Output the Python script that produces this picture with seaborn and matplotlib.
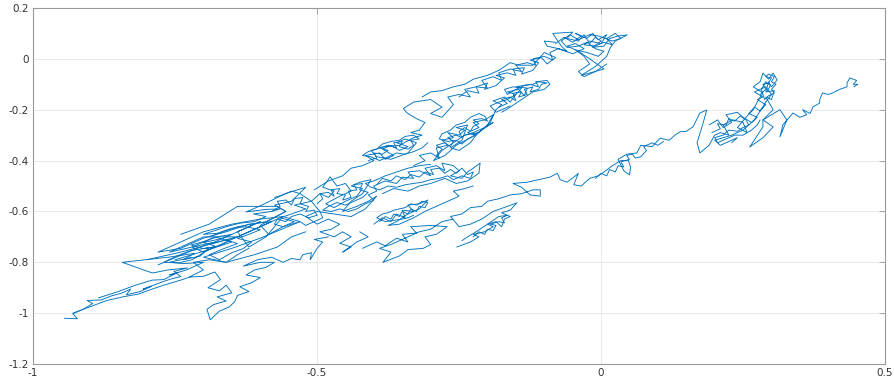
import pandas as pd
import seaborn as sns
import matplotlib.pyplot as plt

# trajectory pieces (x, y in axis units)
tail = [(-0.945, -1.020), (-0.922, -1.022), (-0.930, -1.002), (-0.912, -0.985), (-0.895, -0.962),
        (-0.905, -0.950), (-0.880, -0.948), (-0.862, -0.932), (-0.845, -0.922), (-0.828, -0.905),
        (-0.836, -0.928), (-0.812, -0.915), (-0.792, -0.895), (-0.806, -0.905), (-0.776, -0.880),
        (-0.758, -0.866), (-0.740, -0.856), (-0.752, -0.836), (-0.728, -0.822), (-0.762, -0.830),
        (-0.790, -0.842), (-0.843, -0.800), (-0.762, -0.780), (-0.716, -0.765)]
tail2 = [(-0.885, -0.940), (-0.850, -0.915), (-0.820, -0.890), (-0.790, -0.870), (-0.770, -0.868),
         (-0.745, -0.840), (-0.760, -0.850), (-0.730, -0.830), (-0.700, -0.800), (-0.735, -0.805),
         (-0.760, -0.800), (-0.720, -0.780)]
tail3 = [(-0.930, -1.000), (-0.900, -0.975), (-0.870, -0.950), (-0.840, -0.935), (-0.815, -0.925),
         (-0.790, -0.905), (-0.770, -0.890), (-0.740, -0.870), (-0.720, -0.855)]
band_low = [(-0.716, -0.765), (-0.736, -0.790), (-0.706, -0.776), (-0.690, -0.742), (-0.724, -0.755),
            (-0.748, -0.776), (-0.770, -0.800), (-0.744, -0.802), (-0.720, -0.790), (-0.700, -0.762),
            (-0.680, -0.736), (-0.700, -0.722), (-0.666, -0.706), (-0.650, -0.690), (-0.676, -0.700),
            (-0.696, -0.716), (-0.722, -0.732), (-0.700, -0.746), (-0.672, -0.736), (-0.655, -0.716),
            (-0.640, -0.726), (-0.664, -0.746), (-0.690, -0.770), (-0.672, -0.790), (-0.650, -0.762),
            (-0.630, -0.746), (-0.615, -0.720), (-0.640, -0.706), (-0.620, -0.690), (-0.600, -0.672),
            (-0.626, -0.660), (-0.650, -0.666), (-0.676, -0.686), (-0.700, -0.690), (-0.660, -0.660),
            (-0.636, -0.646), (-0.610, -0.640), (-0.590, -0.620), (-0.612, -0.610), (-0.580, -0.600),
            (-0.565, -0.590), (-0.590, -0.592), (-0.625, -0.602), (-0.600, -0.578), (-0.556, -0.530),
            (-0.520, -0.505), (-0.545, -0.560), (-0.575, -0.575), (-0.555, -0.600), (-0.580, -0.630),
            (-0.600, -0.655), (-0.585, -0.690), (-0.560, -0.660), (-0.540, -0.640), (-0.565, -0.625),
            (-0.545, -0.610), (-0.520, -0.590), (-0.540, -0.575), (-0.510, -0.560)]
band_long = [(-0.780, -0.810), (-0.700, -0.735), (-0.640, -0.700), (-0.700, -0.700), (-0.760, -0.760),
             (-0.680, -0.720), (-0.600, -0.640), (-0.640, -0.680), (-0.620, -0.740), (-0.590, -0.700),
             (-0.560, -0.620), (-0.530, -0.640), (-0.600, -0.705), (-0.650, -0.745), (-0.700, -0.780),
             (-0.660, -0.800), (-0.610, -0.770), (-0.570, -0.740), (-0.545, -0.700), (-0.520, -0.680)]
band_lines = [(-0.800, -0.790), (-0.740, -0.760), (-0.690, -0.730), (-0.640, -0.700), (-0.600, -0.660),
              (-0.560, -0.620), (-0.600, -0.630), (-0.650, -0.650), (-0.700, -0.680), (-0.740, -0.720),
              (-0.780, -0.760), (-0.740, -0.745), (-0.700, -0.705), (-0.660, -0.680), (-0.620, -0.650),
              (-0.580, -0.640), (-0.620, -0.680), (-0.660, -0.720), (-0.700, -0.760), (-0.720, -0.740),
              (-0.680, -0.700), (-0.650, -0.720), (-0.690, -0.750), (-0.750, -0.790)]
band_top = [(-0.740, -0.690), (-0.690, -0.650), (-0.640, -0.580), (-0.570, -0.580), (-0.555, -0.600),
            (-0.590, -0.640), (-0.640, -0.660), (-0.690, -0.700)]
lobe = [(-0.620, -0.745), (-0.640, -0.770), (-0.660, -0.800), (-0.690, -0.790), (-0.718, -0.800),
        (-0.700, -0.830), (-0.725, -0.858), (-0.700, -0.855), (-0.680, -0.838), (-0.670, -0.868),
        (-0.692, -0.900), (-0.672, -0.912), (-0.660, -0.890), (-0.650, -0.920), (-0.676, -0.936),
        (-0.660, -0.952), (-0.682, -0.966), (-0.694, -0.985), (-0.688, -1.026), (-0.672, -0.992),
        (-0.655, -0.976), (-0.645, -0.955), (-0.640, -0.930), (-0.620, -0.915), (-0.636, -0.896),
        (-0.615, -0.880), (-0.600, -0.860), (-0.625, -0.850), (-0.610, -0.830), (-0.590, -0.820),
        (-0.575, -0.800), (-0.600, -0.800), (-0.630, -0.815), (-0.605, -0.790), (-0.580, -0.780),
        (-0.560, -0.800), (-0.545, -0.785), (-0.530, -0.790), (-0.525, -0.770), (-0.510, -0.762),
        (-0.512, -0.790), (-0.500, -0.745), (-0.490, -0.720), (-0.505, -0.710), (-0.480, -0.700)]
left_mid = [(-0.580, -0.600), (-0.565, -0.580), (-0.570, -0.560), (-0.555, -0.555), (-0.545, -0.575),
            (-0.540, -0.550), (-0.525, -0.545), (-0.530, -0.570), (-0.515, -0.580), (-0.520, -0.600),
            (-0.505, -0.595), (-0.500, -0.615), (-0.515, -0.625), (-0.530, -0.610), (-0.545, -0.620),
            (-0.555, -0.640), (-0.570, -0.630), (-0.575, -0.650), (-0.560, -0.660), (-0.545, -0.650),
            (-0.530, -0.640), (-0.520, -0.655), (-0.505, -0.640), (-0.490, -0.625), (-0.495, -0.600),
            (-0.510, -0.560), (-0.530, -0.530), (-0.545, -0.520), (-0.560, -0.535), (-0.575, -0.545)]
mid = [(-0.510, -0.560), (-0.495, -0.530), (-0.480, -0.545), (-0.470, -0.520), (-0.490, -0.505),
       (-0.477, -0.464), (-0.465, -0.500), (-0.450, -0.490), (-0.440, -0.520), (-0.460, -0.540),
       (-0.485, -0.570), (-0.470, -0.585), (-0.450, -0.560), (-0.430, -0.540), (-0.420, -0.510),
       (-0.440, -0.500), (-0.425, -0.485), (-0.405, -0.475), (-0.420, -0.530), (-0.440, -0.560),
       (-0.455, -0.600), (-0.430, -0.580), (-0.410, -0.560), (-0.395, -0.540), (-0.415, -0.590),
       (-0.440, -0.620), (-0.470, -0.610), (-0.500, -0.600), (-0.520, -0.620), (-0.500, -0.650),
       (-0.480, -0.630), (-0.460, -0.650), (-0.475, -0.670), (-0.495, -0.680), (-0.470, -0.700),
       (-0.455, -0.680), (-0.440, -0.700), (-0.460, -0.725), (-0.440, -0.740), (-0.455, -0.760),
       (-0.430, -0.720), (-0.410, -0.700), (-0.425, -0.680)]
mid_dense = [(-0.500, -0.570), (-0.490, -0.550), (-0.495, -0.530), (-0.480, -0.525), (-0.470, -0.540),
             (-0.475, -0.515), (-0.460, -0.510), (-0.465, -0.530), (-0.450, -0.535), (-0.455, -0.555),
             (-0.440, -0.545), (-0.445, -0.520), (-0.430, -0.515), (-0.435, -0.495), (-0.420, -0.490),
             (-0.425, -0.515), (-0.410, -0.525), (-0.420, -0.545), (-0.435, -0.560), (-0.450, -0.575),
             (-0.465, -0.565), (-0.480, -0.580), (-0.490, -0.595), (-0.475, -0.600), (-0.460, -0.590),
             (-0.445, -0.600), (-0.430, -0.590), (-0.415, -0.570), (-0.400, -0.555), (-0.410, -0.535),
             (-0.395, -0.520), (-0.400, -0.500)]
upper1 = [(-0.505, -0.515), (-0.480, -0.480), (-0.455, -0.460), (-0.440, -0.430), (-0.420, -0.420),
          (-0.400, -0.400), (-0.415, -0.380), (-0.390, -0.370), (-0.380, -0.395), (-0.365, -0.380),
          (-0.385, -0.355), (-0.370, -0.340), (-0.355, -0.360), (-0.340, -0.345), (-0.360, -0.330),
          (-0.345, -0.315), (-0.325, -0.330), (-0.340, -0.370), (-0.370, -0.395), (-0.395, -0.385),
          (-0.405, -0.360), (-0.380, -0.345), (-0.355, -0.340), (-0.330, -0.310), (-0.315, -0.300),
          (-0.335, -0.290), (-0.320, -0.280)]
upper1_dense = [(-0.410, -0.400), (-0.395, -0.390), (-0.400, -0.370), (-0.385, -0.375), (-0.375, -0.360),
                (-0.390, -0.350), (-0.375, -0.340), (-0.360, -0.350), (-0.365, -0.330), (-0.350, -0.325),
                (-0.355, -0.345), (-0.340, -0.355), (-0.330, -0.340), (-0.335, -0.320), (-0.320, -0.315),
                (-0.330, -0.300), (-0.345, -0.305), (-0.355, -0.320), (-0.370, -0.325), (-0.385, -0.335),
                (-0.395, -0.355), (-0.410, -0.365), (-0.420, -0.380), (-0.405, -0.385), (-0.390, -0.400),
                (-0.375, -0.385), (-0.360, -0.370), (-0.345, -0.375), (-0.330, -0.365), (-0.315, -0.350),
                (-0.305, -0.330)]
strand_a = [(-0.320, -0.280), (-0.310, -0.250), (-0.325, -0.235), (-0.342, -0.212), (-0.348, -0.195),
            (-0.330, -0.170), (-0.300, -0.160), (-0.280, -0.190), (-0.300, -0.215), (-0.280, -0.230),
            (-0.260, -0.180), (-0.270, -0.150), (-0.250, -0.140), (-0.230, -0.150), (-0.240, -0.120),
            (-0.220, -0.110), (-0.200, -0.115), (-0.210, -0.085), (-0.190, -0.070), (-0.175, -0.085),
            (-0.180, -0.055), (-0.160, -0.040), (-0.140, -0.050), (-0.150, -0.025), (-0.130, -0.015),
            (-0.115, -0.025), (-0.120, 0.000), (-0.100, 0.010), (-0.085, -0.005), (-0.090, 0.025),
            (-0.075, 0.040), (-0.060, 0.030), (-0.070, 0.050), (-0.085, 0.100), (-0.050, 0.105),
            (-0.060, 0.080), (-0.040, 0.070), (-0.030, 0.095), (-0.020, 0.060), (-0.010, 0.085),
            (0.000, 0.070), (-0.015, 0.045), (0.005, 0.050), (0.015, 0.080), (0.030, 0.090),
            (0.046, 0.094), (0.025, 0.070), (0.016, 0.043), (0.010, 0.010), (-0.010, -0.030),
            (-0.035, -0.065), (0.005, -0.040), (-0.020, 0.000), (-0.040, 0.030), (-0.060, 0.050),
            (-0.045, 0.060), (-0.030, 0.040), (-0.050, 0.020), (-0.075, 0.040), (-0.095, 0.050),
            (-0.100, 0.070), (-0.080, 0.065)]
strand_a_mesh = [(-0.250, -0.150), (-0.235, -0.125), (-0.215, -0.135), (-0.220, -0.110), (-0.200, -0.095),
                 (-0.205, -0.120), (-0.185, -0.105), (-0.170, -0.075), (-0.185, -0.065), (-0.165, -0.055),
                 (-0.150, -0.065), (-0.155, -0.040), (-0.135, -0.035), (-0.140, -0.060), (-0.120, -0.045),
                 (-0.110, -0.015), (-0.125, -0.005), (-0.105, 0.005), (-0.095, -0.020), (-0.080, 0.005),
                 (-0.100, 0.025), (-0.120, -0.025), (-0.145, -0.025), (-0.160, -0.015), (-0.180, -0.045),
                 (-0.200, -0.065), (-0.225, -0.080), (-0.240, -0.100), (-0.260, -0.110), (-0.280, -0.125),
                 (-0.300, -0.130), (-0.315, -0.150)]
top_tangle = [(-0.080, 0.060), (-0.065, 0.085), (-0.050, 0.065), (-0.035, 0.090), (-0.045, 0.100),
              (-0.025, 0.080), (-0.015, 0.100), (-0.005, 0.075), (0.010, 0.095), (0.000, 0.060),
              (-0.020, 0.070), (-0.030, 0.055), (-0.010, 0.050), (0.005, 0.065), (0.020, 0.055),
              (0.010, 0.080), (0.025, 0.100), (0.035, 0.080), (0.020, 0.070), (-0.005, 0.090),
              (-0.020, 0.095), (-0.040, 0.075), (-0.055, 0.095), (-0.070, 0.070), (-0.060, 0.045),
              (-0.040, 0.050), (-0.025, 0.065), (-0.010, 0.040), (0.005, 0.030), (-0.005, 0.010),
              (-0.025, 0.025), (-0.045, 0.035), (-0.030, 0.010), (-0.020, -0.020), (-0.040, -0.050),
              (-0.030, -0.070), (-0.010, -0.050), (0.010, -0.020)]
upper2 = [(-0.330, -0.420), (-0.310, -0.400), (-0.320, -0.380), (-0.300, -0.370), (-0.285, -0.390),
          (-0.290, -0.350), (-0.270, -0.340), (-0.280, -0.320), (-0.260, -0.310), (-0.270, -0.290),
          (-0.250, -0.300), (-0.240, -0.280), (-0.255, -0.270), (-0.235, -0.260), (-0.245, -0.320),
          (-0.265, -0.350), (-0.250, -0.360), (-0.230, -0.330), (-0.220, -0.300), (-0.235, -0.290),
          (-0.215, -0.270), (-0.225, -0.250), (-0.205, -0.240), (-0.190, -0.220), (-0.200, -0.260),
          (-0.215, -0.290), (-0.240, -0.300), (-0.260, -0.330), (-0.280, -0.360), (-0.295, -0.400),
          (-0.275, -0.380), (-0.255, -0.340), (-0.230, -0.310), (-0.210, -0.280), (-0.195, -0.250),
          (-0.185, -0.200)]
upper2_dense = [(-0.290, -0.380), (-0.280, -0.355), (-0.290, -0.340), (-0.275, -0.330), (-0.265, -0.345),
                (-0.260, -0.325), (-0.270, -0.310), (-0.255, -0.300), (-0.245, -0.310), (-0.250, -0.285),
                (-0.240, -0.270), (-0.230, -0.285), (-0.225, -0.265), (-0.215, -0.255), (-0.225, -0.240),
                (-0.210, -0.235), (-0.200, -0.245), (-0.205, -0.225), (-0.215, -0.215), (-0.230, -0.230),
                (-0.240, -0.250), (-0.255, -0.260), (-0.265, -0.280), (-0.280, -0.295), (-0.285, -0.315),
                (-0.270, -0.325), (-0.255, -0.320), (-0.245, -0.335), (-0.235, -0.315), (-0.220, -0.300),
                (-0.210, -0.280), (-0.200, -0.265), (-0.190, -0.250), (-0.205, -0.270), (-0.225, -0.290),
                (-0.240, -0.300)]
strand_b = [(-0.185, -0.200), (-0.175, -0.180), (-0.190, -0.165), (-0.170, -0.150), (-0.160, -0.170),
            (-0.150, -0.140), (-0.165, -0.130), (-0.145, -0.120), (-0.135, -0.145), (-0.130, -0.115),
            (-0.150, -0.110), (-0.125, -0.100), (-0.110, -0.110), (-0.115, -0.090), (-0.095, -0.085),
            (-0.090, -0.100), (-0.100, -0.120), (-0.120, -0.130), (-0.140, -0.160), (-0.160, -0.190),
            (-0.175, -0.210)]
strand_b_dense = [(-0.180, -0.190), (-0.165, -0.175), (-0.175, -0.160), (-0.160, -0.150), (-0.150, -0.165),
                  (-0.155, -0.135), (-0.140, -0.130), (-0.145, -0.150), (-0.130, -0.140), (-0.135, -0.120),
                  (-0.120, -0.110), (-0.125, -0.130), (-0.110, -0.120), (-0.105, -0.100), (-0.095, -0.095),
                  (-0.110, -0.090), (-0.120, -0.100), (-0.135, -0.105), (-0.150, -0.120), (-0.165, -0.140),
                  (-0.170, -0.120), (-0.155, -0.110), (-0.140, -0.115), (-0.150, -0.140), (-0.165, -0.160),
                  (-0.180, -0.170), (-0.195, -0.185), (-0.185, -0.210), (-0.170, -0.195), (-0.160, -0.185)]
mid2 = [(-0.400, -0.500), (-0.380, -0.480), (-0.360, -0.490), (-0.350, -0.465), (-0.330, -0.470),
        (-0.340, -0.445), (-0.320, -0.440), (-0.300, -0.460), (-0.310, -0.430), (-0.290, -0.420),
        (-0.275, -0.440), (-0.280, -0.410), (-0.260, -0.420), (-0.250, -0.440), (-0.265, -0.460),
        (-0.245, -0.470), (-0.235, -0.445), (-0.225, -0.430), (-0.213, -0.410), (-0.215, -0.450),
        (-0.235, -0.480), (-0.255, -0.490), (-0.275, -0.470), (-0.300, -0.490), (-0.320, -0.500),
        (-0.340, -0.520), (-0.365, -0.510), (-0.385, -0.530)]
mid2_dense = [(-0.395, -0.495), (-0.385, -0.470), (-0.370, -0.480), (-0.360, -0.460), (-0.345, -0.475),
              (-0.335, -0.455), (-0.320, -0.465), (-0.310, -0.445), (-0.295, -0.455), (-0.300, -0.435),
              (-0.285, -0.430), (-0.275, -0.450), (-0.265, -0.435), (-0.255, -0.450), (-0.245, -0.430),
              (-0.235, -0.455), (-0.225, -0.445), (-0.230, -0.470), (-0.245, -0.460), (-0.260, -0.475),
              (-0.270, -0.460), (-0.285, -0.470), (-0.300, -0.475), (-0.315, -0.485), (-0.330, -0.490),
              (-0.345, -0.495), (-0.360, -0.505), (-0.375, -0.500), (-0.390, -0.515), (-0.405, -0.505),
              (-0.415, -0.490), (-0.400, -0.480), (-0.380, -0.460), (-0.360, -0.445), (-0.340, -0.430),
              (-0.320, -0.420), (-0.300, -0.415)]
mid3 = [(-0.400, -0.650), (-0.385, -0.625), (-0.370, -0.640), (-0.360, -0.610), (-0.345, -0.625),
        (-0.350, -0.595), (-0.330, -0.600), (-0.340, -0.575), (-0.320, -0.570), (-0.305, -0.555),
        (-0.320, -0.590), (-0.340, -0.610), (-0.360, -0.640), (-0.375, -0.655), (-0.355, -0.650),
        (-0.330, -0.625), (-0.310, -0.600), (-0.290, -0.580), (-0.270, -0.560), (-0.250, -0.540),
        (-0.260, -0.520), (-0.240, -0.510), (-0.225, -0.500)]
mid3_dense = [(-0.390, -0.640), (-0.380, -0.620), (-0.370, -0.630), (-0.365, -0.610), (-0.355, -0.620),
              (-0.350, -0.600), (-0.340, -0.610), (-0.335, -0.590), (-0.325, -0.600), (-0.320, -0.580),
              (-0.310, -0.585), (-0.305, -0.565), (-0.315, -0.560), (-0.325, -0.575), (-0.335, -0.570),
              (-0.345, -0.585), (-0.355, -0.590), (-0.365, -0.595), (-0.375, -0.605), (-0.385, -0.610),
              (-0.395, -0.625), (-0.380, -0.640), (-0.365, -0.635), (-0.350, -0.630), (-0.340, -0.625),
              (-0.330, -0.615)]
low3 = [(-0.420, -0.745), (-0.395, -0.720), (-0.380, -0.735), (-0.360, -0.705), (-0.340, -0.720),
        (-0.350, -0.690), (-0.325, -0.685), (-0.335, -0.660), (-0.300, -0.655), (-0.271, -0.660),
        (-0.290, -0.690), (-0.310, -0.700), (-0.300, -0.730), (-0.313, -0.745), (-0.340, -0.750),
        (-0.355, -0.775), (-0.384, -0.800), (-0.370, -0.760), (-0.390, -0.745), (-0.370, -0.730),
        (-0.345, -0.705), (-0.320, -0.680), (-0.300, -0.670), (-0.280, -0.640), (-0.260, -0.630)]
right_strand = [(-0.254, -0.740), (-0.230, -0.720), (-0.215, -0.700), (-0.225, -0.690), (-0.205, -0.680),
                (-0.190, -0.660), (-0.200, -0.650), (-0.185, -0.640), (-0.175, -0.660), (-0.170, -0.630),
                (-0.160, -0.620), (-0.175, -0.605), (-0.160, -0.595), (-0.148, -0.566), (-0.165, -0.580),
                (-0.190, -0.600), (-0.210, -0.630), (-0.230, -0.650), (-0.250, -0.660), (-0.265, -0.620),
                (-0.245, -0.610), (-0.230, -0.585), (-0.210, -0.580), (-0.200, -0.560), (-0.180, -0.550),
                (-0.160, -0.535), (-0.140, -0.530), (-0.120, -0.515), (-0.107, -0.515), (-0.107, -0.540),
                (-0.125, -0.535), (-0.140, -0.505), (-0.155, -0.490), (-0.130, -0.485), (-0.110, -0.475),
                (-0.090, -0.465), (-0.077, -0.450), (-0.072, -0.475), (-0.060, -0.485), (-0.045, -0.460),
                (-0.040, -0.450), (-0.048, -0.495), (-0.035, -0.500), (-0.020, -0.470), (-0.005, -0.460),
                (0.005, -0.445), (0.020, -0.420), (0.035, -0.400), (0.048, -0.400), (0.052, -0.425),
                (0.050, -0.456), (0.040, -0.440), (0.030, -0.395), (0.045, -0.375), (0.063, -0.370),
                (0.070, -0.340), (0.090, -0.345), (0.104, -0.312), (0.120, -0.320), (0.130, -0.300),
                (0.139, -0.287), (0.150, -0.285), (0.162, -0.267), (0.174, -0.213), (0.186, -0.201),
                (0.180, -0.250), (0.169, -0.330), (0.174, -0.370), (0.190, -0.340), (0.200, -0.300),
                (0.210, -0.290), (0.225, -0.300), (0.215, -0.260), (0.232, -0.240), (0.250, -0.250),
                (0.257, -0.290), (0.240, -0.270), (0.255, -0.230), (0.268, -0.200), (0.275, -0.170),
                (0.285, -0.134), (0.268, -0.110), (0.280, -0.090), (0.285, -0.056), (0.295, -0.080),
                (0.303, -0.056), (0.310, -0.083), (0.300, -0.110), (0.295, -0.090), (0.290, -0.130),
                (0.305, -0.125), (0.300, -0.160), (0.290, -0.150), (0.303, -0.200), (0.285, -0.240),
                (0.285, -0.267), (0.262, -0.346)]
right_left = [(-0.010, -0.470), (0.000, -0.450), (0.010, -0.460), (0.015, -0.435), (0.025, -0.445),
              (0.030, -0.420), (0.040, -0.425), (0.035, -0.405), (0.050, -0.395), (0.045, -0.380),
              (0.055, -0.375), (0.060, -0.390), (0.070, -0.385), (0.080, -0.360), (0.075, -0.345),
              (0.090, -0.330), (0.100, -0.340), (0.110, -0.325)]
r1_dense = [(-0.225, -0.700), (-0.215, -0.680), (-0.205, -0.690), (-0.200, -0.670), (-0.190, -0.675),
            (-0.185, -0.655), (-0.195, -0.650), (-0.180, -0.640), (-0.170, -0.645), (-0.175, -0.625),
            (-0.165, -0.615), (-0.180, -0.620), (-0.190, -0.635), (-0.200, -0.650), (-0.210, -0.665),
            (-0.220, -0.680), (-0.235, -0.700), (-0.245, -0.715)]
right_dense = [(0.190, -0.260), (0.205, -0.240), (0.215, -0.270), (0.230, -0.250), (0.220, -0.220),
               (0.240, -0.210), (0.250, -0.230), (0.265, -0.250), (0.275, -0.230), (0.260, -0.215),
               (0.270, -0.190), (0.280, -0.205), (0.290, -0.180), (0.275, -0.160), (0.285, -0.150),
               (0.270, -0.130), (0.290, -0.110), (0.300, -0.140), (0.290, -0.170), (0.270, -0.240),
               (0.250, -0.280), (0.230, -0.300), (0.200, -0.320), (0.210, -0.340), (0.240, -0.310),
               (0.230, -0.330)]
right_dense2 = [(0.195, -0.290), (0.210, -0.275), (0.205, -0.255), (0.220, -0.260), (0.225, -0.235),
                (0.235, -0.245), (0.245, -0.225), (0.255, -0.240), (0.260, -0.260), (0.250, -0.270),
                (0.240, -0.285), (0.225, -0.280), (0.215, -0.300), (0.200, -0.310), (0.205, -0.330),
                (0.220, -0.315), (0.235, -0.300), (0.250, -0.300), (0.265, -0.280), (0.275, -0.260),
                (0.280, -0.240)]
right_top = [(0.280, -0.140), (0.290, -0.120), (0.285, -0.100), (0.295, -0.095), (0.300, -0.075),
             (0.290, -0.070), (0.295, -0.060), (0.305, -0.070), (0.300, -0.090), (0.308, -0.100),
             (0.300, -0.120), (0.305, -0.135), (0.295, -0.145), (0.288, -0.160), (0.282, -0.120),
             (0.290, -0.090), (0.298, -0.105), (0.292, -0.130)]
branch = [(0.262, -0.346), (0.285, -0.310), (0.303, -0.268), (0.285, -0.240), (0.315, -0.200),
          (0.327, -0.240), (0.315, -0.307), (0.320, -0.260), (0.338, -0.213), (0.350, -0.230),
          (0.362, -0.220), (0.355, -0.200), (0.368, -0.215), (0.373, -0.189), (0.385, -0.174),
          (0.385, -0.160), (0.390, -0.134), (0.400, -0.140), (0.408, -0.134), (0.420, -0.120),
          (0.433, -0.110), (0.433, -0.095), (0.438, -0.075), (0.450, -0.085), (0.444, -0.100),
          (0.452, -0.100), (0.445, -0.110)]

x_ticks = [-1, -0.5, 0, 0.5]
x_labels = ["-1", "-0.5", "0", "0.5"]
y_ticks = [-1.2, -1.0, -0.8, -0.6, -0.4, -0.2, 0, 0.2]
y_labels = ["-1.2", "-1", "-0.8", "-0.6", "-0.4", "-0.2", "0", "0.2"]

pieces = [tail, tail2, tail3, band_low, band_long, band_lines, band_top, lobe, left_mid,
          mid, mid_dense, upper1, upper1_dense, strand_a, strand_a_mesh, top_tangle,
          upper2, upper2_dense, strand_b, strand_b_dense, mid2, mid2_dense, mid3, mid3_dense,
          low3, right_strand, right_left, r1_dense, right_dense, right_dense2, right_top, branch]
rows = []
for k, piece in enumerate(pieces):
    for i, (px, py) in enumerate(piece):
        rows.append({"piece": k, "order": i, "x": px, "y": py})
df = pd.DataFrame(rows)

sns.set_style("white")
plt.rcParams["font.family"] = ["DejaVu Sans"]

fig = plt.figure(figsize=(8.94, 3.8), dpi=100)
ax = fig.add_axes([0.037, 0.042, 0.953, 0.937])
sns.lineplot(data=df, x="x", y="y", units="piece", estimator=None, sort=False,
             color="#0072BD", linewidth=0.65, ax=ax)

ax.set_xlim(-1, 0.5)
ax.set_ylim(-1.2, 0.2)
ax.set_xticks(x_ticks)
ax.set_xticklabels(x_labels)
ax.set_yticks(y_ticks)
ax.set_yticklabels(y_labels)
ax.set_xlabel("")
ax.set_ylabel("")
ax.grid(True, color="#e4e4e4", linewidth=0.6)
ax.set_axisbelow(True)
for s in ax.spines.values():
    s.set_color("#9a9a9a")
    s.set_linewidth(0.8)
ax.tick_params(direction="in", length=4, width=0.6, color="#9a9a9a",
               top=True, right=True, labelsize=7.5, labelcolor="#333333", pad=3)

fig.savefig("out.png", dpi=100)
